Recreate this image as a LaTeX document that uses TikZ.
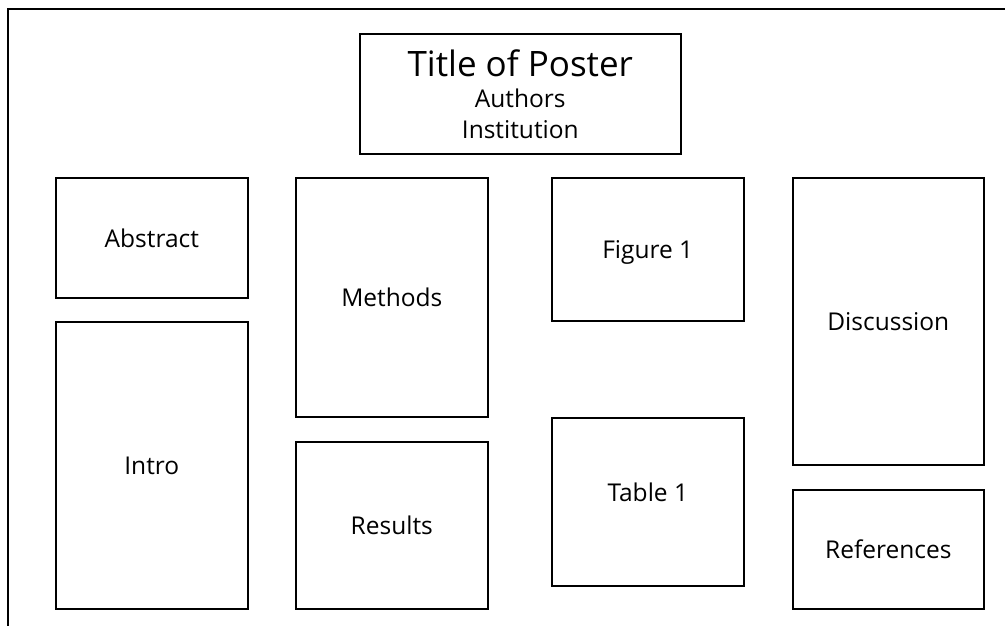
\documentclass[tikz,border=0pt]{standalone}
\usepackage{fontspec}
\setmainfont{Open Sans}

\begin{document}
\begin{tikzpicture}[x=1pt,y=-1pt,
    panel/.style={draw,line width=1.6pt,anchor=north west,inner sep=0pt,
        align=center,font=\fontsize{24.5}{31}\selectfont}]
    % fix the page to the size of the poster sheet
    \useasboundingbox (0,0) rectangle (1005,626);

    % draw the edge of the sheet
    \draw[line width=2pt] (8,640) -- (8,9.5) -- (1020,9.5);

    % draw the title block
    \node[panel,minimum width=321pt,minimum height=120pt] (title) at (359,33)
        {{\fontsize{35}{38}\selectfont Title of Poster}\\
         Authors\\ Institution};

    % draw the panels of the poster
    % (the depth moves the text up inside its panel)
    \foreach \name/\x/\y/\w/\h/\dep/\text in {
        abstract/55/177/192/120/0/Abstract,
        intro/55/321/192/287/0/Intro,
        methods/295/177/192/239/0/Methods,
        results/295/441/192/167/0/Results,
        figure/551/177/192/143/0/Figure 1,
        table/551/417/192/168/20/Table 1,
        discussion/792/177/191/287/0/Discussion,
        references/792/489/191/119/0/References}
            \node[panel,minimum width=\w pt,minimum height=\h pt,text depth=\dep pt]
                (\name) at (\x,\y) {\text};
\end{tikzpicture}
\end{document}
